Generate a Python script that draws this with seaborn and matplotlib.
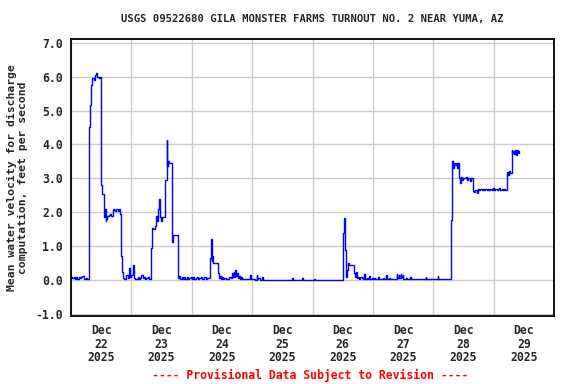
import numpy as np
import pandas as pd
import seaborn as sns
import matplotlib.pyplot as plt
import matplotlib.dates as mdates

# hours since 2025-12-22 00:00 and mean water velocity (ft/s)
hours = [0.0, 0.5, 1.0, 1.5, 2.0, 2.5, 3.0, 3.5, 4.0, 4.5, 5.0, 5.5, 6.0, 6.5,
         7.0, 7.25, 7.5, 8.0, 8.5, 9.0, 9.5, 10.0, 10.5, 11.0, 11.5,
         12.0, 12.5, 13.0, 13.25, 13.5, 13.75, 14.0, 14.5, 15.0, 15.5, 16.0,
         16.5, 17.0, 17.5, 18.0, 18.5, 19.0, 19.5, 20.0, 20.25, 20.5, 21.0,
         21.5, 22.0, 22.5, 23.0, 23.5,
         24.0, 24.5, 25.0, 25.5, 26.0, 26.5, 27.0, 27.5, 28.0, 28.5, 29.0,
         29.5, 30.0, 30.5, 31.0, 31.7, 32.2, 32.7, 33.2, 33.8, 34.2, 34.7,
         35.0, 35.3, 35.8, 36.3, 37.3, 38.0, 38.3, 38.6, 39.0, 39.5, 40.2,
         40.5, 41.0, 41.5, 42.0, 42.4, 43.0, 43.5, 44.0, 44.5, 45.0, 45.5,
         46.0, 46.5, 47.0, 47.5,
         48.0, 48.5, 49.0, 49.5, 50.0, 50.5, 51.0, 51.5, 52.0, 52.5, 53.0,
         53.5, 54.0, 55.3, 55.6, 55.9, 56.2, 56.6, 57.0, 57.5, 58.0, 58.5,
         58.8, 59.2, 59.6, 60.0, 60.5, 61.0, 61.5, 62.0, 62.5, 63.0, 63.5,
         64.0, 64.3, 64.6, 65.0, 65.3, 65.6, 66.0, 66.3, 66.6, 67.0, 67.5,
         68.0, 68.5, 69.0, 69.5, 70.0, 71.0, 71.5,
         72.0, 73.0, 73.8, 74.1, 74.5, 75.0, 76.0, 76.3, 80.0, 87.9, 88.2,
         92.0, 92.3, 96.0, 96.5, 97.0, 107.5,
         108.0, 108.3, 108.6, 108.9, 109.2, 109.6, 110.0, 110.5, 111.0,
         111.5, 112.0, 112.5, 112.8, 113.2, 113.5, 114.0, 114.4, 115.0,
         115.5, 116.0, 116.5, 117.0, 117.5, 118.0, 118.5, 119.0, 119.5,
         120.0, 120.5, 121.0, 122.0, 122.5, 123.0, 124.0, 124.5, 125.4,
         125.7, 126.5, 127.0, 128.0, 129.0, 129.4, 129.7, 130.2, 130.5,
         131.0, 131.3, 131.8, 132.1, 133.0, 133.5, 134.6, 135.0, 136.0,
         137.0, 138.0, 139.0, 140.0, 141.0, 141.3, 142.0, 143.0,
         144.0, 145.0, 145.7, 146.0, 147.0, 148.0, 149.0, 150.0, 151.1,
         151.5, 151.8, 152.1, 152.5, 153.0, 153.4, 153.8, 154.4, 154.8,
         155.1, 155.5, 156.0, 156.5, 157.0, 157.5, 158.0, 158.5, 159.0,
         159.7, 160.2, 160.7, 161.2, 161.7, 162.2, 162.7, 163.2, 163.7,
         164.2, 164.7, 165.2, 165.7, 166.2, 166.7, 167.2, 167.7,
         168.2, 168.7, 169.2, 169.7, 170.2, 170.7, 171.2, 171.7, 172.2,
         172.7, 173.4, 173.8, 174.2, 174.6, 175.2, 175.5, 175.8, 176.1,
         176.4, 176.7, 177.0, 177.3, 177.6, 178.0]

velocity = [0.08, 0.05, 0.1, 0.04, 0.08, 0.04, 0.1, 0.05, 0.08, 0.12, 0.04, 0.03, 0.05, 0.03,
            1.27, 4.5, 5.15, 5.75, 5.95, 5.9, 6.05, 6.1, 6.0, 5.95, 6.0,
            2.8, 2.55, 2.3, 1.85, 2.1, 1.75, 1.8, 1.9, 1.92, 1.95, 1.9,
            2.1, 2.08, 2.05, 2.1, 2.05, 2.1, 1.95, 0.7, 0.25, 0.05, 0.04,
            0.03, 0.15, 0.05, 0.35, 0.1,
            0.15, 0.44, 0.05, 0.03, 0.04, 0.1, 0.03, 0.05, 0.15, 0.05, 0.08,
            0.03, 0.05, 0.1, 0.04, 0.95, 1.55, 1.5, 1.6, 1.9, 1.75, 2.1,
            2.4, 1.85, 1.75, 1.85, 2.96, 4.14, 3.35, 3.5, 3.45, 3.45, 1.12,
            1.33, 1.33, 1.33, 1.33, 0.05, 0.12, 0.03, 0.08, 0.03, 0.1, 0.03,
            0.08, 0.03, 0.05, 0.1,
            0.04, 0.1, 0.03, 0.05, 0.08, 0.03, 0.05, 0.1, 0.03, 0.04, 0.08,
            0.03, 0.05, 0.65, 1.22, 0.55, 0.7, 0.5, 0.5, 0.5, 0.5, 0.2,
            0.05, 0.12, 0.03, 0.1, 0.03, 0.05, 0.03, 0.04, 0.03, 0.1, 0.05,
            0.2, 0.08, 0.25, 0.1, 0.3, 0.12, 0.2, 0.05, 0.12, 0.03, 0.08,
            0.03, 0.02, 0.03, 0.02, 0.03, 0.15, 0.02,
            0.02, 0.0, 0.15, 0.02, 0.05, 0.0, 0.08, 0.0, 0.0, 0.05, 0.0,
            0.05, 0.0, 0.0, 0.04, 0.0, 0.0,
            0.5, 1.39, 1.83, 0.9, 0.08, 0.3, 0.5, 0.45, 0.45,
            0.45, 0.45, 0.2, 0.1, 0.25, 0.05, 0.1, 0.03, 0.1,
            0.05, 0.03, 0.18, 0.03, 0.05, 0.03, 0.12, 0.03, 0.05,
            0.03, 0.05, 0.02, 0.08, 0.03, 0.02, 0.05, 0.02, 0.15,
            0.03, 0.05, 0.02, 0.04, 0.02, 0.18, 0.05, 0.15, 0.05,
            0.18, 0.1, 0.15, 0.03, 0.05, 0.02, 0.08, 0.02, 0.04,
            0.02, 0.03, 0.02, 0.04, 0.08, 0.02, 0.03, 0.02,
            0.04, 0.02, 0.12, 0.02, 0.03, 0.02, 0.04, 0.02, 1.77,
            3.5, 3.3, 3.45, 3.4, 3.45, 3.3, 3.45, 3.0, 2.85,
            3.05, 2.95, 3.02, 3.0, 3.05, 2.95, 3.0, 2.92, 3.02,
            2.62, 2.6, 2.65, 2.58, 2.7, 2.65, 2.68, 2.65, 2.7,
            2.66, 2.68, 2.65, 2.7, 2.66, 2.68, 2.65, 2.72,
            2.66, 2.7, 2.65, 2.68, 2.72, 2.66, 2.7, 2.65, 2.68,
            2.66, 3.2, 3.1, 3.22, 3.15, 3.85, 3.75, 3.8, 3.72,
            3.85, 3.78, 3.7, 3.85, 3.75, 3.8]

start = pd.Timestamp("2025-12-22 00:00")
df = pd.DataFrame({
    "time": start + pd.to_timedelta(hours, unit="h"),
    "velocity": velocity,
})

sns.set_style("white")
plt.rcParams['font.family'] = ['DejaVu Sans Mono']
plt.rcParams['font.weight'] = 'bold'

fig = plt.figure(figsize=(5.76, 3.84), dpi=100)
ax = fig.add_axes([0.1233, 0.1771, 0.8385, 0.7213])

sns.lineplot(data=df, x="time", y="velocity", ax=ax, color="#0000ff",
             linewidth=1.0, drawstyle="steps-post")

ax.set_xlim(start, start + pd.Timedelta(days=8))
ax.set_ylim(-1.06, 7.11)
ax.set_yticks(np.arange(-1, 8, 1))
ax.set_yticklabels([f"{v:.1f}" for v in np.arange(-1, 8, 1)], fontsize=8.3, fontweight="bold")

# gridlines at midnight, labels at noon
ax.xaxis.set_major_locator(mdates.DayLocator())
ax.xaxis.set_major_formatter(plt.NullFormatter())
ax.xaxis.set_minor_locator(mdates.HourLocator(byhour=[12]))
ax.xaxis.set_minor_formatter(mdates.DateFormatter("%b\n%d\n%Y"))
ax.tick_params(axis="x", which="both", length=0, labelsize=8.3, pad=6)
ax.tick_params(axis="y", length=0, pad=6)
for lbl in ax.get_xticklabels(minor=True):
    lbl.set_fontweight("bold")
    lbl.set_linespacing(1.05)

ax.grid(True, which="major", color="#cccccc", linewidth=1.0)
for s in ax.spines.values():
    s.set_visible(True)
    s.set_color("black")
    s.set_linewidth(1.3)

ax.set_xlabel("")
ax.set_ylabel("Mean water velocity for discharge\ncomputation, feet per second",
              fontsize=8.2, fontweight="bold", labelpad=5)
ax.set_title("USGS 09522680 GILA MONSTER FARMS TURNOUT NO. 2 NEAR YUMA, AZ",
             fontsize=7.6, fontweight="bold", pad=12)

fig.text(0.538, 0.012, "---- Provisional Data Subject to Revision ----",
         color="red", fontsize=8.3, fontweight="bold", ha="center")

fig.savefig("out.png", dpi=100)
